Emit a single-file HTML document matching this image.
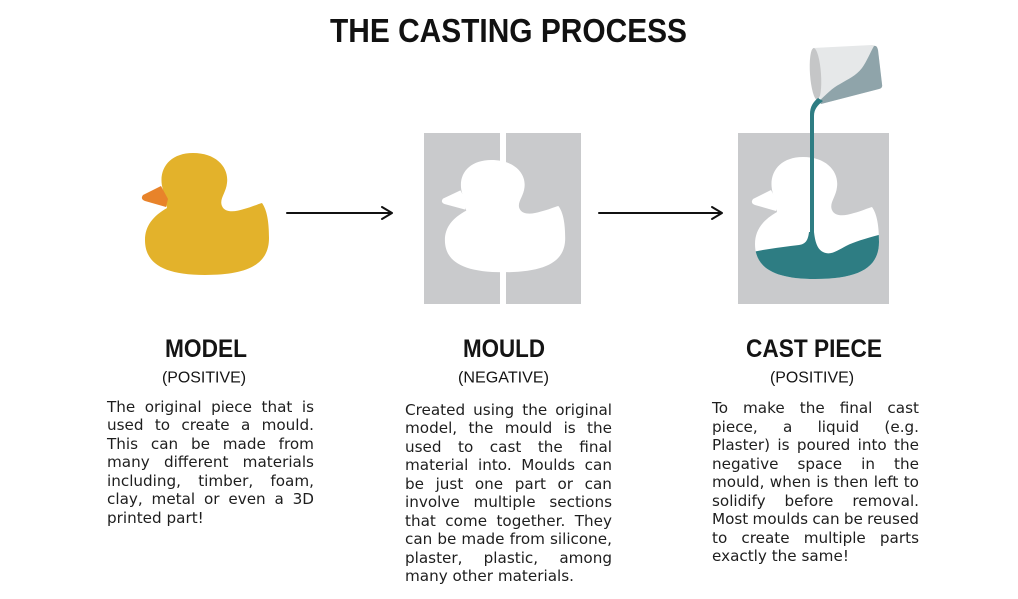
<!DOCTYPE html>
<html><head><meta charset="utf-8">
<style>
html,body{margin:0;padding:0;background:#fff;}
body{width:1018px;height:599px;position:relative;overflow:hidden;}
svg{position:absolute;left:0;top:0;}
.col{position:absolute;width:207px;font-family:"DejaVu Sans","Liberation Sans",sans-serif;font-size:15.2px;line-height:18.5px;color:#1e1e1e;}
.l{display:flex;justify-content:space-between;white-space:nowrap;height:18.5px;}
.e{white-space:nowrap;height:18.5px;}
</style></head><body>
<svg width="1018" height="599" viewBox="0 0 1018 599" xmlns="http://www.w3.org/2000/svg">
  <!-- Title -->
  <text x="330" y="42" textLength="357" lengthAdjust="spacingAndGlyphs" font-family="Liberation Sans, sans-serif" font-weight="bold" font-size="33" fill="#111">THE CASTING PROCESS</text>

  <!-- MODEL duck -->
  <path d="M163,190 C157,170 169,153 193,153 C217,153 229,168 227,183 C226,193 219,199 222,206 C225,213 235,212 244,209 C252,207 258,204 262,203 C267,210 269,222 269,238 C269,263 250,275 205,275 C163,275 145,263 145,240 C145,226 153,216 167,208 Z" fill="#e3b22b"/>
  <path d="M143,195 L161,186 L168,199 L166,207 L145,201 Q140,199 143,195 Z" fill="#e8832a"/>

  <!-- arrows -->
  <g stroke="#111" stroke-width="2" fill="none" stroke-linecap="round" stroke-linejoin="round">
    <line x1="287" y1="213" x2="391" y2="213"/>
    <polyline points="382,207 392,213 382,219"/>
    <line x1="599" y1="213" x2="721" y2="213"/>
    <polyline points="712,207 722,213 712,219"/>
  </g>

  <!-- MOULD -->
  <rect x="424" y="133" width="76" height="171" fill="#c9cacc"/>
  <rect x="506" y="133" width="75" height="171" fill="#c9cacc"/>
  <g transform="matrix(0.97,0,0,0.92,304.26,19.24)" fill="#fff">
    <path d="M163,190 C157,170 169,153 193,153 C217,153 229,168 227,183 C226,193 219,199 222,206 C225,213 235,212 244,209 C252,207 258,204 262,203 C267,210 269,222 269,238 C269,263 250,275 205,275 C163,275 145,263 145,240 C145,226 153,216 167,208 Z"/>
    <path d="M143,195 L161,186 L168,199 L166,207 L145,201 Q140,199 143,195 Z"/>
  </g>
  <rect x="500" y="133" width="6" height="171" fill="#fff"/>

  <!-- CAST PIECE -->
  <defs>
    <clipPath id="dk">
      <path transform="translate(610,4)" d="M163,190 C157,170 169,153 193,153 C217,153 229,168 227,183 C226,193 219,199 222,206 C225,213 235,212 244,209 C252,207 258,204 262,203 C267,210 269,222 269,238 C269,263 250,275 205,275 C163,275 145,263 145,240 C145,226 153,216 167,208 Z"/>
    </clipPath>
  </defs>
  <rect x="738" y="133" width="151" height="171" fill="#c9cacc"/>
  <g transform="translate(610,4)" fill="#fff">
    <path d="M163,190 C157,170 169,153 193,153 C217,153 229,168 227,183 C226,193 219,199 222,206 C225,213 235,212 244,209 C252,207 258,204 262,203 C267,210 269,222 269,238 C269,263 250,275 205,275 C163,275 145,263 145,240 C145,226 153,216 167,208 Z"/>
    <path d="M143,195 L161,186 L168,199 L166,207 L145,201 Q140,199 143,195 Z"/>
  </g>
  <path clip-path="url(#dk)" d="M740,255 C758,250 782,247 799,245 C806,244 808,240 809,232 L814,232 C815,241 817,249 823,252 C831,256 838,250 846,246 C856,241 868,238 886,233 L886,292 L740,292 Z" fill="#2e7d83"/>

  <!-- cup -->
  <path d="M813,48 L872,45 Q877,45 878,50 L882,84 Q883,88 879,89 L821,104 Z" fill="#e6e8e9"/>
  <path d="M819,101 C826,95 832,88 840,84 C848,79 856,76 862,68 C867,61 870,53 874,46 Q877,45 878,50 L882,84 Q883,88 879,89 L821,104 Z" fill="#8fa4aa"/>
  <ellipse cx="815.5" cy="74" rx="5.5" ry="26" fill="#c5c6c7" transform="rotate(-4 815.5 74)"/>
  <!-- stream -->
  <path d="M818,98 L823,101 C818,105 814,109 814,116 L814,236 L810,236 L810,114 C810,107 813,102 818,98 Z" fill="#2e7d83"/>

  <!-- headings -->
  <g font-family="Liberation Sans, sans-serif" fill="#141414">
    <text x="165" y="357" textLength="82" lengthAdjust="spacingAndGlyphs" font-weight="bold" font-size="24.7">MODEL</text>
    <text x="463" y="357" textLength="82" lengthAdjust="spacingAndGlyphs" font-weight="bold" font-size="24.7">MOULD</text>
    <text x="746" y="357" textLength="136" lengthAdjust="spacingAndGlyphs" font-weight="bold" font-size="24.7">CAST PIECE</text>
    <text x="162" y="382.5" textLength="84" lengthAdjust="spacingAndGlyphs" font-size="15.3">(POSITIVE)</text>
    <text x="458" y="382.5" textLength="91" lengthAdjust="spacingAndGlyphs" font-size="15.3">(NEGATIVE)</text>
    <text x="770" y="382.5" textLength="84" lengthAdjust="spacingAndGlyphs" font-size="15.3">(POSITIVE)</text>
  </g>
</svg>

<div class="col" style="left:107px;top:397.5px;">
  <div class="l"><span>The</span><span>original</span><span>piece</span><span>that</span><span>is</span></div>
  <div class="l"><span>used</span><span>to</span><span>create</span><span>a</span><span>mould.</span></div>
  <div class="l"><span>This</span><span>can</span><span>be</span><span>made</span><span>from</span></div>
  <div class="l"><span>many</span><span>different</span><span>materials</span></div>
  <div class="l"><span>including,</span><span>timber,</span><span>foam,</span></div>
  <div class="l"><span>clay,</span><span>metal</span><span>or</span><span>even</span><span>a</span><span>3D</span></div>
  <div class="e">printed part!</div>
</div>

<div class="col" style="left:405px;top:400.5px;">
  <div class="l"><span>Created</span><span>using</span><span>the</span><span>original</span></div>
  <div class="l"><span>model,</span><span>the</span><span>mould</span><span>is</span><span>the</span></div>
  <div class="l"><span>used</span><span>to</span><span>cast</span><span>the</span><span>final</span></div>
  <div class="l"><span>material</span><span>into.</span><span>Moulds</span><span>can</span></div>
  <div class="l"><span>be</span><span>just</span><span>one</span><span>part</span><span>or</span><span>can</span></div>
  <div class="l"><span>involve</span><span>multiple</span><span>sections</span></div>
  <div class="l"><span>that</span><span>come</span><span>together.</span><span>They</span></div>
  <div class="l"><span>can</span><span>be</span><span>made</span><span>from</span><span>silicone,</span></div>
  <div class="l"><span>plaster,</span><span>plastic,</span><span>among</span></div>
  <div class="e">many other materials.</div>
</div>

<div class="col" style="left:712px;top:399.2px;">
  <div class="l"><span>To</span><span>make</span><span>the</span><span>final</span><span>cast</span></div>
  <div class="l"><span>piece,</span><span>a</span><span>liquid</span><span>(e.g.</span></div>
  <div class="l"><span>Plaster)</span><span>is</span><span>poured</span><span>into</span><span>the</span></div>
  <div class="l"><span>negative</span><span>space</span><span>in</span><span>the</span></div>
  <div class="l"><span>mould,</span><span>when</span><span>is</span><span>then</span><span>left</span><span>to</span></div>
  <div class="l"><span>solidify</span><span>before</span><span>removal.</span></div>
  <div class="l"><span>Most</span><span>moulds</span><span>can</span><span>be</span><span>reused</span></div>
  <div class="l"><span>to</span><span>create</span><span>multiple</span><span>parts</span></div>
  <div class="e">exactly the same!</div>
</div>
</body></html>
